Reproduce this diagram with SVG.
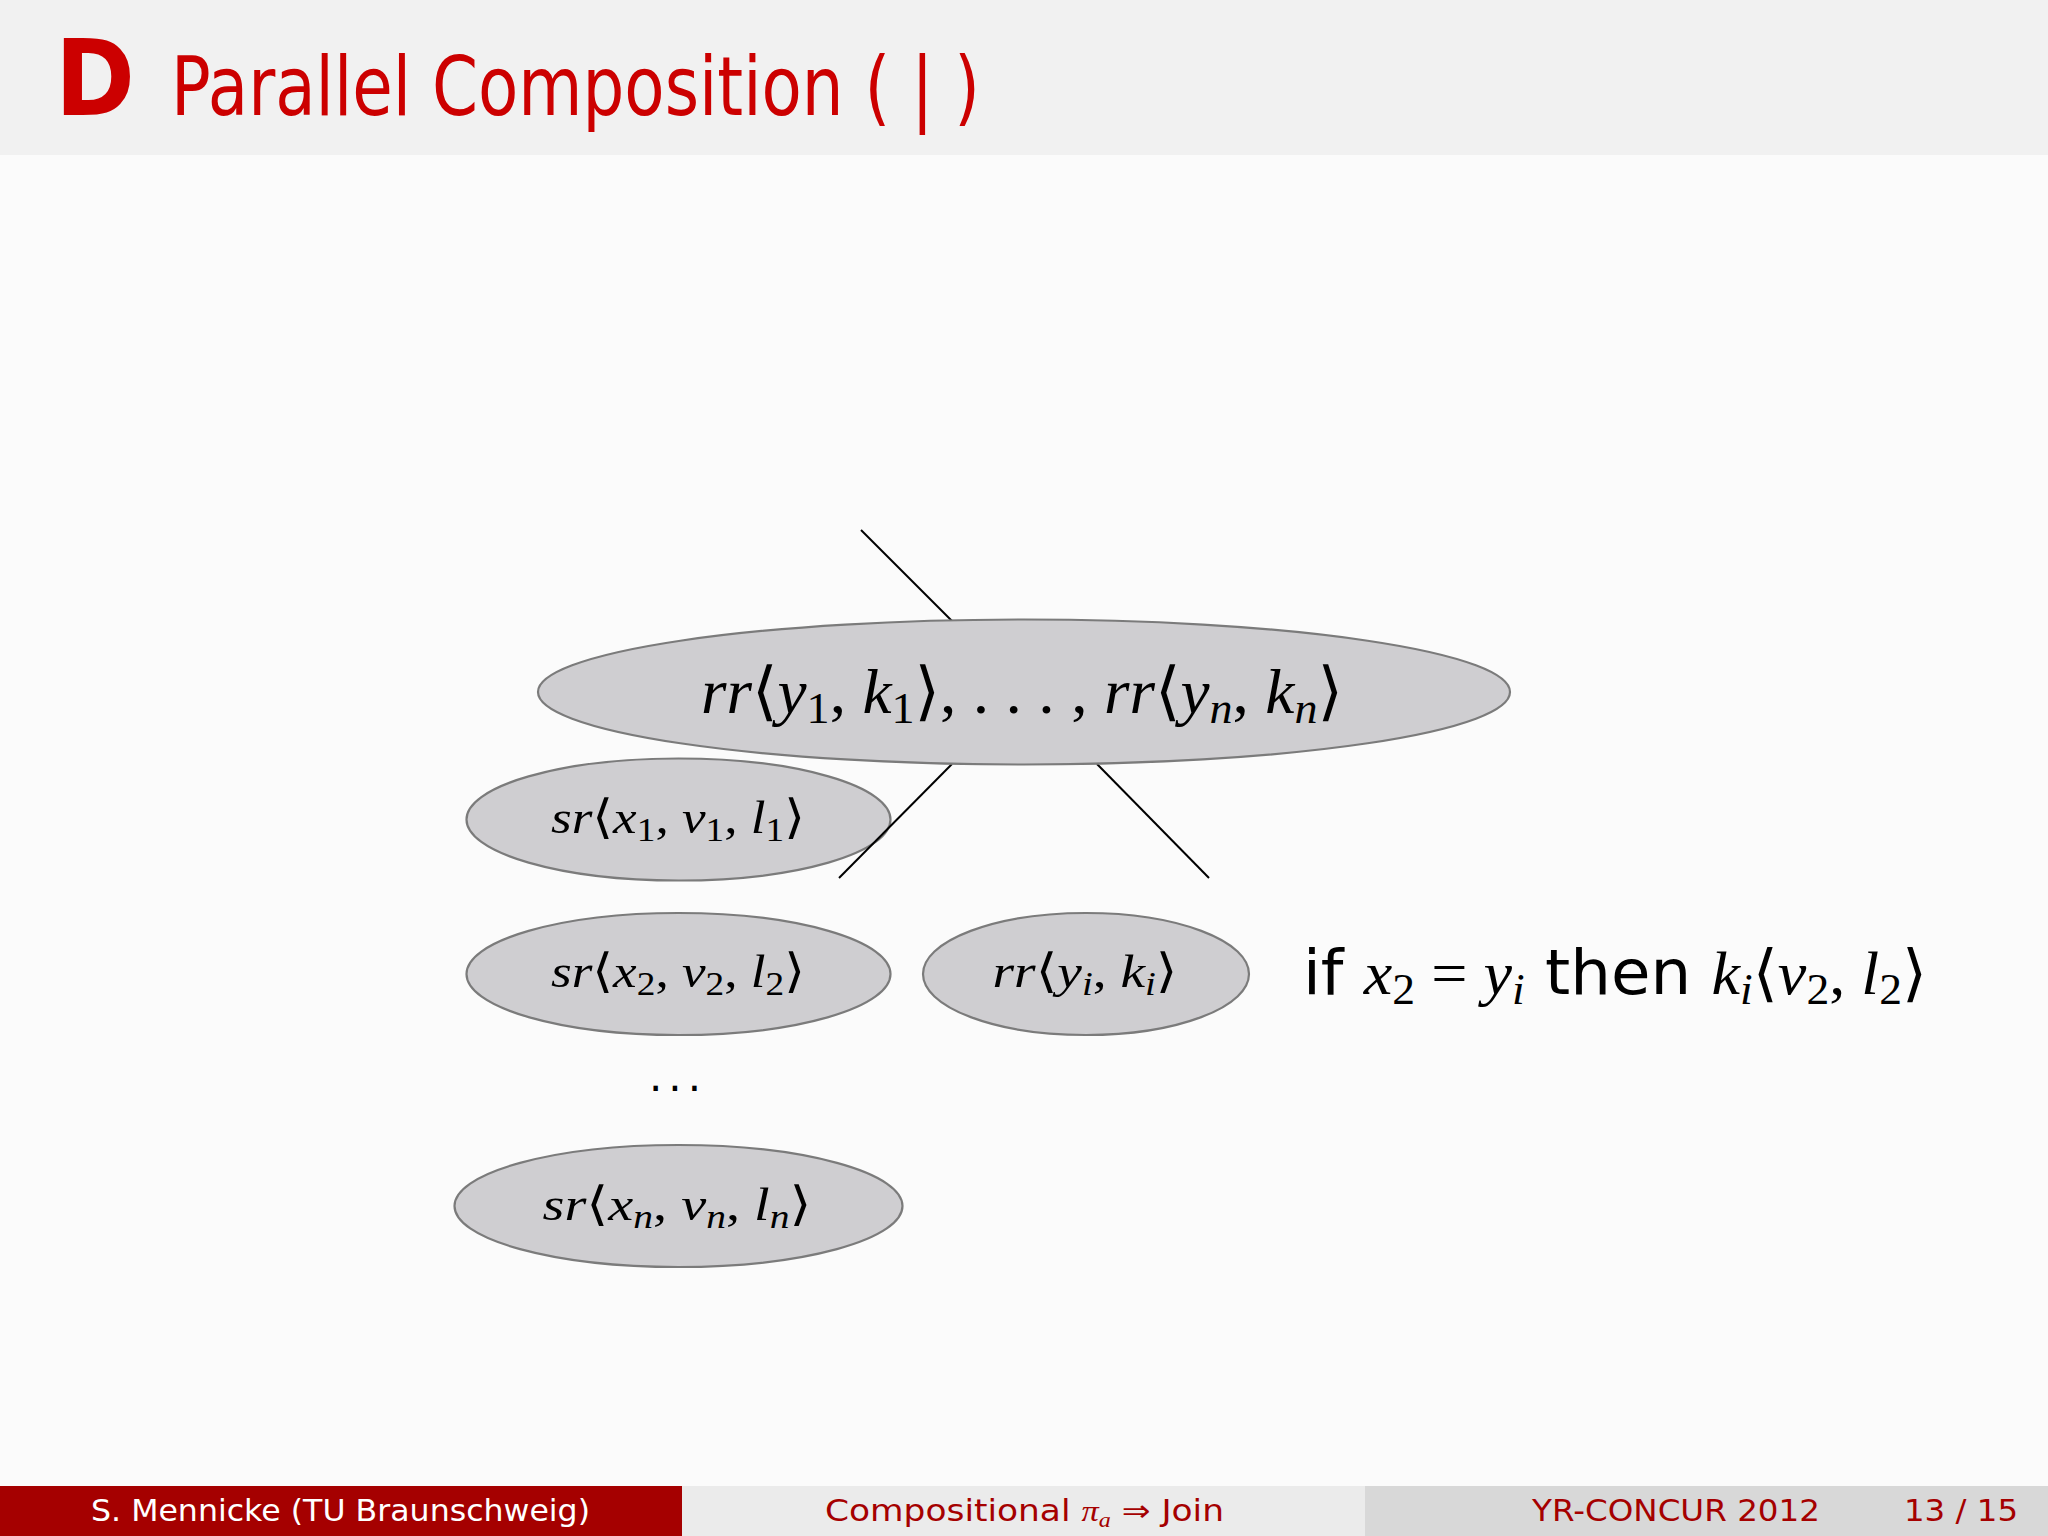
<svg xmlns="http://www.w3.org/2000/svg" width="2048" height="1536" viewBox="0 0 2048 1536">
<style>
.node{fill:#cfced1;stroke:#7b7b7b;stroke-width:2.2}
.edge{stroke:#000;stroke-width:2;fill:none}
.m{font-family:"Liberation Serif","DejaVu Serif",serif;font-style:italic;fill:#000}
.u{font-style:normal}
.br{font-family:"DejaVu Serif","DejaVu Sans",serif;font-style:normal}
.sans{font-family:"DejaVu Sans","Liberation Sans",sans-serif}
.foot{font-family:"DejaVu Sans","Liberation Sans",sans-serif;font-size:30px}
</style>
<rect x="0" y="0" width="2048" height="1536" fill="#fbfbfb"/>
<rect x="0" y="0" width="2048" height="155" fill="#f1f1f1"/>
<g id="title">
<text x="55" y="115" class="sans" font-weight="bold" font-size="106" fill="#cc0000" textLength="80" lengthAdjust="spacingAndGlyphs">D</text>
<text x="171" y="115" class="sans" font-size="82" fill="#cc0000" textLength="809" lengthAdjust="spacingAndGlyphs">Parallel Composition ( | )</text>
</g>
<g id="node-sr1">
<ellipse class="node" cx="678.5" cy="819.5" rx="212" ry="61"/>
<text class="m" x="678" y="833" font-size="47" text-anchor="middle" textLength="254" lengthAdjust="spacingAndGlyphs">sr<tspan class="br">⟨</tspan>x<tspan class="u" font-size="33" dy="8">1</tspan><tspan class="u" dy="-8">, </tspan>v<tspan class="u" font-size="33" dy="8">1</tspan><tspan class="u" dy="-8">, </tspan>l<tspan class="u" font-size="33" dy="8">1</tspan><tspan class="br" dy="-8">⟩</tspan></text>
</g>
<g id="connectors">
<line class="edge" x1="861" y1="530" x2="952" y2="621"/>
<line class="edge" x1="952" y1="764" x2="839" y2="878"/>
<line class="edge" x1="1097" y1="764" x2="1209" y2="878"/>
</g>
<g id="node-rr-all">
<ellipse class="node" cx="1024" cy="692" rx="486" ry="72.5"/>
<text class="m" x="1022" y="713" font-size="64" text-anchor="middle" textLength="642" lengthAdjust="spacingAndGlyphs">rr<tspan class="br">⟨</tspan>y<tspan class="u" font-size="45" dy="10">1</tspan><tspan class="u" dy="-10">, </tspan>k<tspan class="u" font-size="45" dy="10">1</tspan><tspan class="br" dy="-10">⟩</tspan><tspan class="u">, . . . , </tspan>rr<tspan class="br">⟨</tspan>y<tspan font-size="45" dy="10">n</tspan><tspan class="u" dy="-10">, </tspan>k<tspan font-size="45" dy="10">n</tspan><tspan class="br" dy="-10">⟩</tspan></text>
</g>
<g id="node-sr2">
<ellipse class="node" cx="678.5" cy="974" rx="212" ry="61"/>
<text class="m" x="678" y="987" font-size="47" text-anchor="middle" textLength="254" lengthAdjust="spacingAndGlyphs">sr<tspan class="br">⟨</tspan>x<tspan class="u" font-size="33" dy="8">2</tspan><tspan class="u" dy="-8">, </tspan>v<tspan class="u" font-size="33" dy="8">2</tspan><tspan class="u" dy="-8">, </tspan>l<tspan class="u" font-size="33" dy="8">2</tspan><tspan class="br" dy="-8">⟩</tspan></text>
</g>
<g id="node-rri">
<ellipse class="node" cx="1086" cy="974" rx="163" ry="61"/>
<text class="m" x="1085" y="987" font-size="47" text-anchor="middle" textLength="185" lengthAdjust="spacingAndGlyphs">rr<tspan class="br">⟨</tspan>y<tspan font-size="33" dy="8">i</tspan><tspan class="u" dy="-8">, </tspan>k<tspan font-size="33" dy="8">i</tspan><tspan class="br" dy="-8">⟩</tspan></text>
</g>
<g id="dots">
<text x="675" y="1091" class="sans" font-size="42" text-anchor="middle" fill="#000" textLength="52" lengthAdjust="spacing">. . .</text>
</g>
<g id="node-srn">
<ellipse class="node" cx="678.5" cy="1206" rx="224" ry="61"/>
<text class="m" x="677" y="1220" font-size="47" text-anchor="middle" textLength="269" lengthAdjust="spacingAndGlyphs">sr<tspan class="br">⟨</tspan>x<tspan font-size="33" dy="8">n</tspan><tspan class="u" dy="-8">, </tspan>v<tspan font-size="33" dy="8">n</tspan><tspan class="u" dy="-8">, </tspan>l<tspan font-size="33" dy="8">n</tspan><tspan class="br" dy="-8">⟩</tspan></text>
</g>
<g id="condition">
<text x="1303" y="994" font-size="62" class="m" textLength="624" lengthAdjust="spacingAndGlyphs"><tspan class="sans u">if </tspan>x<tspan class="u" font-size="44" dy="10">2</tspan><tspan class="u" dy="-10"> = </tspan>y<tspan font-size="44" dy="10">i</tspan><tspan class="sans u" dy="-10"> then </tspan>k<tspan font-size="44" dy="10">i</tspan><tspan class="br" dy="-10">⟨</tspan>v<tspan class="u" font-size="44" dy="10">2</tspan><tspan class="u" dy="-10">, </tspan>l<tspan class="u" font-size="44" dy="10">2</tspan><tspan class="br" dy="-10">⟩</tspan></text>
</g>
<g id="footer">
<rect x="0" y="1486" width="682" height="50" fill="#a50000"/>
<rect x="682" y="1486" width="683" height="50" fill="#ebebeb"/>
<rect x="1365" y="1486" width="683" height="50" fill="#d8d8d8"/>
<text class="foot" x="91" y="1521" fill="#ffffff" textLength="499" lengthAdjust="spacingAndGlyphs">S. Mennicke  (TU Braunschweig)</text>
<text class="foot" x="825" y="1521" fill="#a50000" textLength="399" lengthAdjust="spacingAndGlyphs">Compositional <tspan font-family="Liberation Serif,serif" font-style="italic">π</tspan><tspan font-family="Liberation Serif,serif" font-style="italic" font-size="21" dy="6">a</tspan><tspan dy="-6"> ⇒ Join</tspan></text>
<text class="foot" x="1532" y="1521" fill="#a50000" textLength="288" lengthAdjust="spacingAndGlyphs">YR-CONCUR 2012</text>
<text class="foot" x="1904" y="1521" fill="#a50000" textLength="114" lengthAdjust="spacingAndGlyphs">13 / 15</text>
</g>
</svg>
